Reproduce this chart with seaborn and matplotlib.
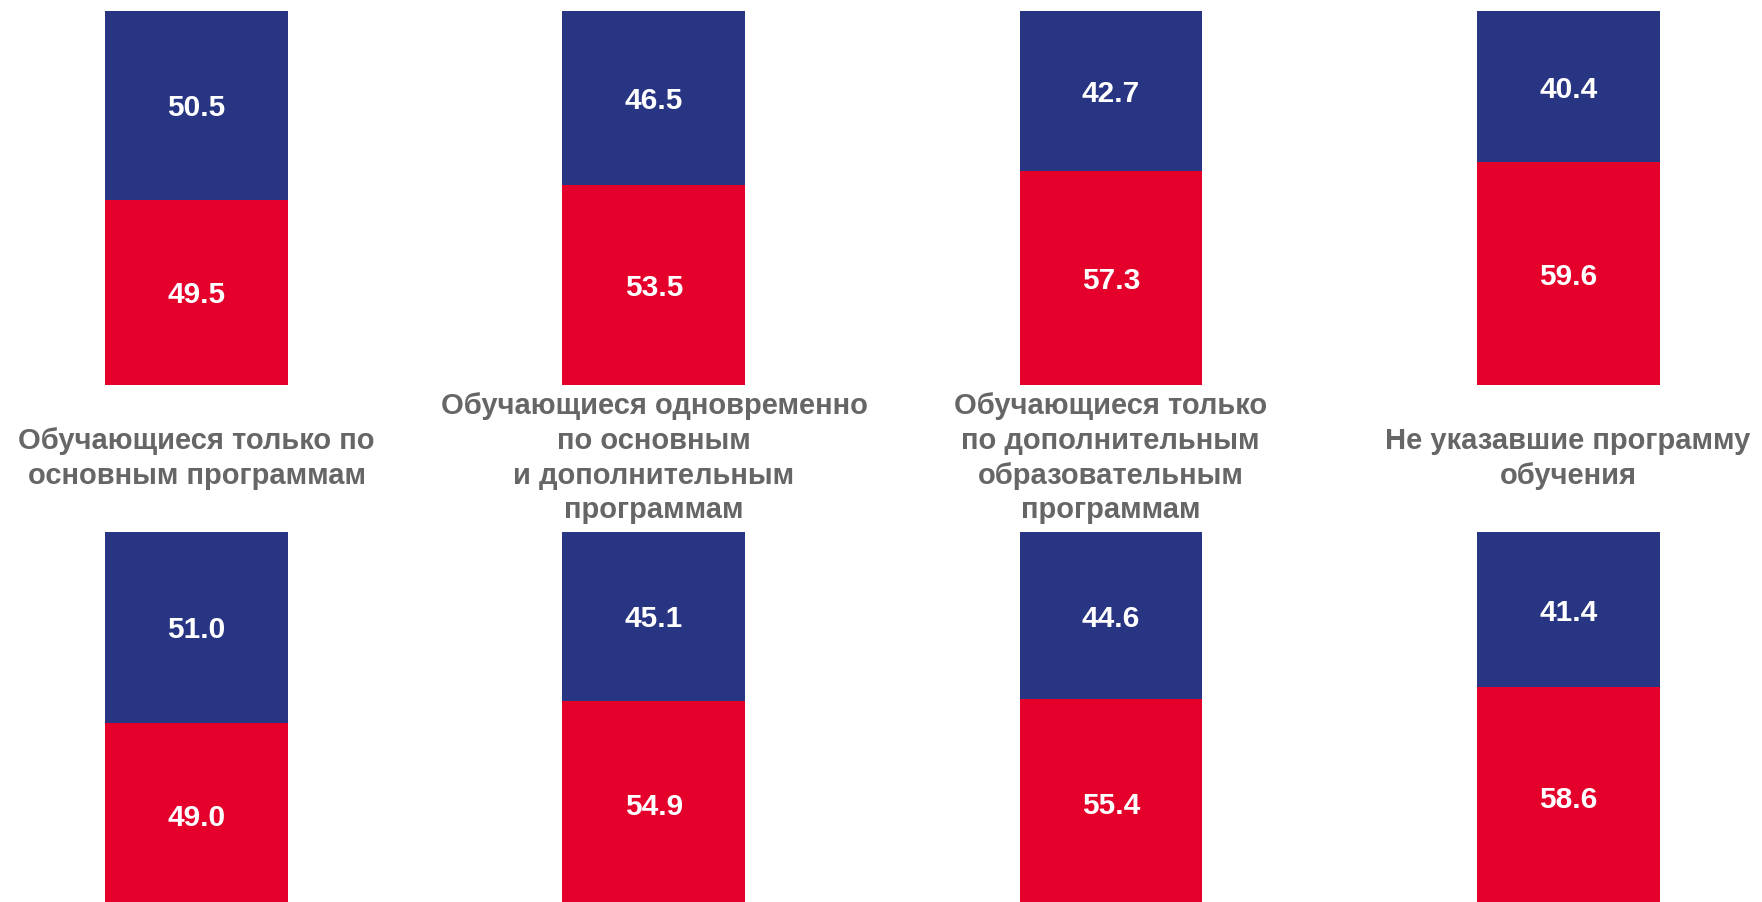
import matplotlib
matplotlib.use("Agg")
import matplotlib.pyplot as plt
import seaborn as sns
import pandas as pd

sns.set_style("white")
plt.rcParams['font.family'] = ['Liberation Sans', 'DejaVu Sans']

# groups (labels go between the two rows)
groups = ["Обучающиеся только по\nосновным программам",
          "Обучающиеся одновременно\nпо основным\nи дополнительным\nпрограммам",
          "Обучающиеся только\nпо дополнительным\nобразовательным\nпрограммам",
          "Не указавшие программу\nобучения"]

# top row
top_blue = [50.5, 46.5, 42.7, 40.4]
top_red = [49.5, 53.5, 57.3, 59.6]
# bottom row
bot_blue = [51.0, 45.1, 44.6, 41.4]
bot_red = [49.0, 54.9, 55.4, 58.6]

blue = "#283583"
red = "#E4002B"
gray = "#666666"

fig = plt.figure(figsize=(17.62, 9.02), dpi=100)

def draw_row(ax, blues, reds):
    df = pd.DataFrame({"x": [0, 1, 2, 3], "red": reds,
                       "total": [b + r for b, r in zip(blues, reds)]})
    sns.barplot(data=df, x="x", y="total", color=blue, width=0.4,
                saturation=1, ax=ax, native_scale=True, linewidth=0)
    sns.barplot(data=df, x="x", y="red", color=red, width=0.4,
                saturation=1, ax=ax, native_scale=True, linewidth=0)
    for i, (b, r) in enumerate(zip(blues, reds)):
        ax.text(i, r / 2, f"{r:.1f}", ha="center", va="center_baseline",
                color="white", fontsize=21.5, fontweight="bold")
        ax.text(i, r + b / 2, f"{b:.1f}", ha="center", va="center_baseline",
                color="white", fontsize=21.5, fontweight="bold")
    ax.set_xlim(-0.43, 3.424)
    ax.set_ylim(0, 100)
    ax.axis("off")

ax1 = fig.add_axes([0, 0.5732, 1, 0.4146])
draw_row(ax1, top_blue, top_red)
ax2 = fig.add_axes([0, -0.005, 1, 0.4152])
draw_row(ax2, bot_blue, bot_red)

centers = [196.5, 654, 1110.5, 1568]
for c, g in zip(centers, groups):
    fig.text(c / 1762, 0.492, g, ha="center", va="center", multialignment="center",
             color=gray, fontsize=21, fontweight="bold", linespacing=1.31)

fig.savefig("out.png", dpi=100)
